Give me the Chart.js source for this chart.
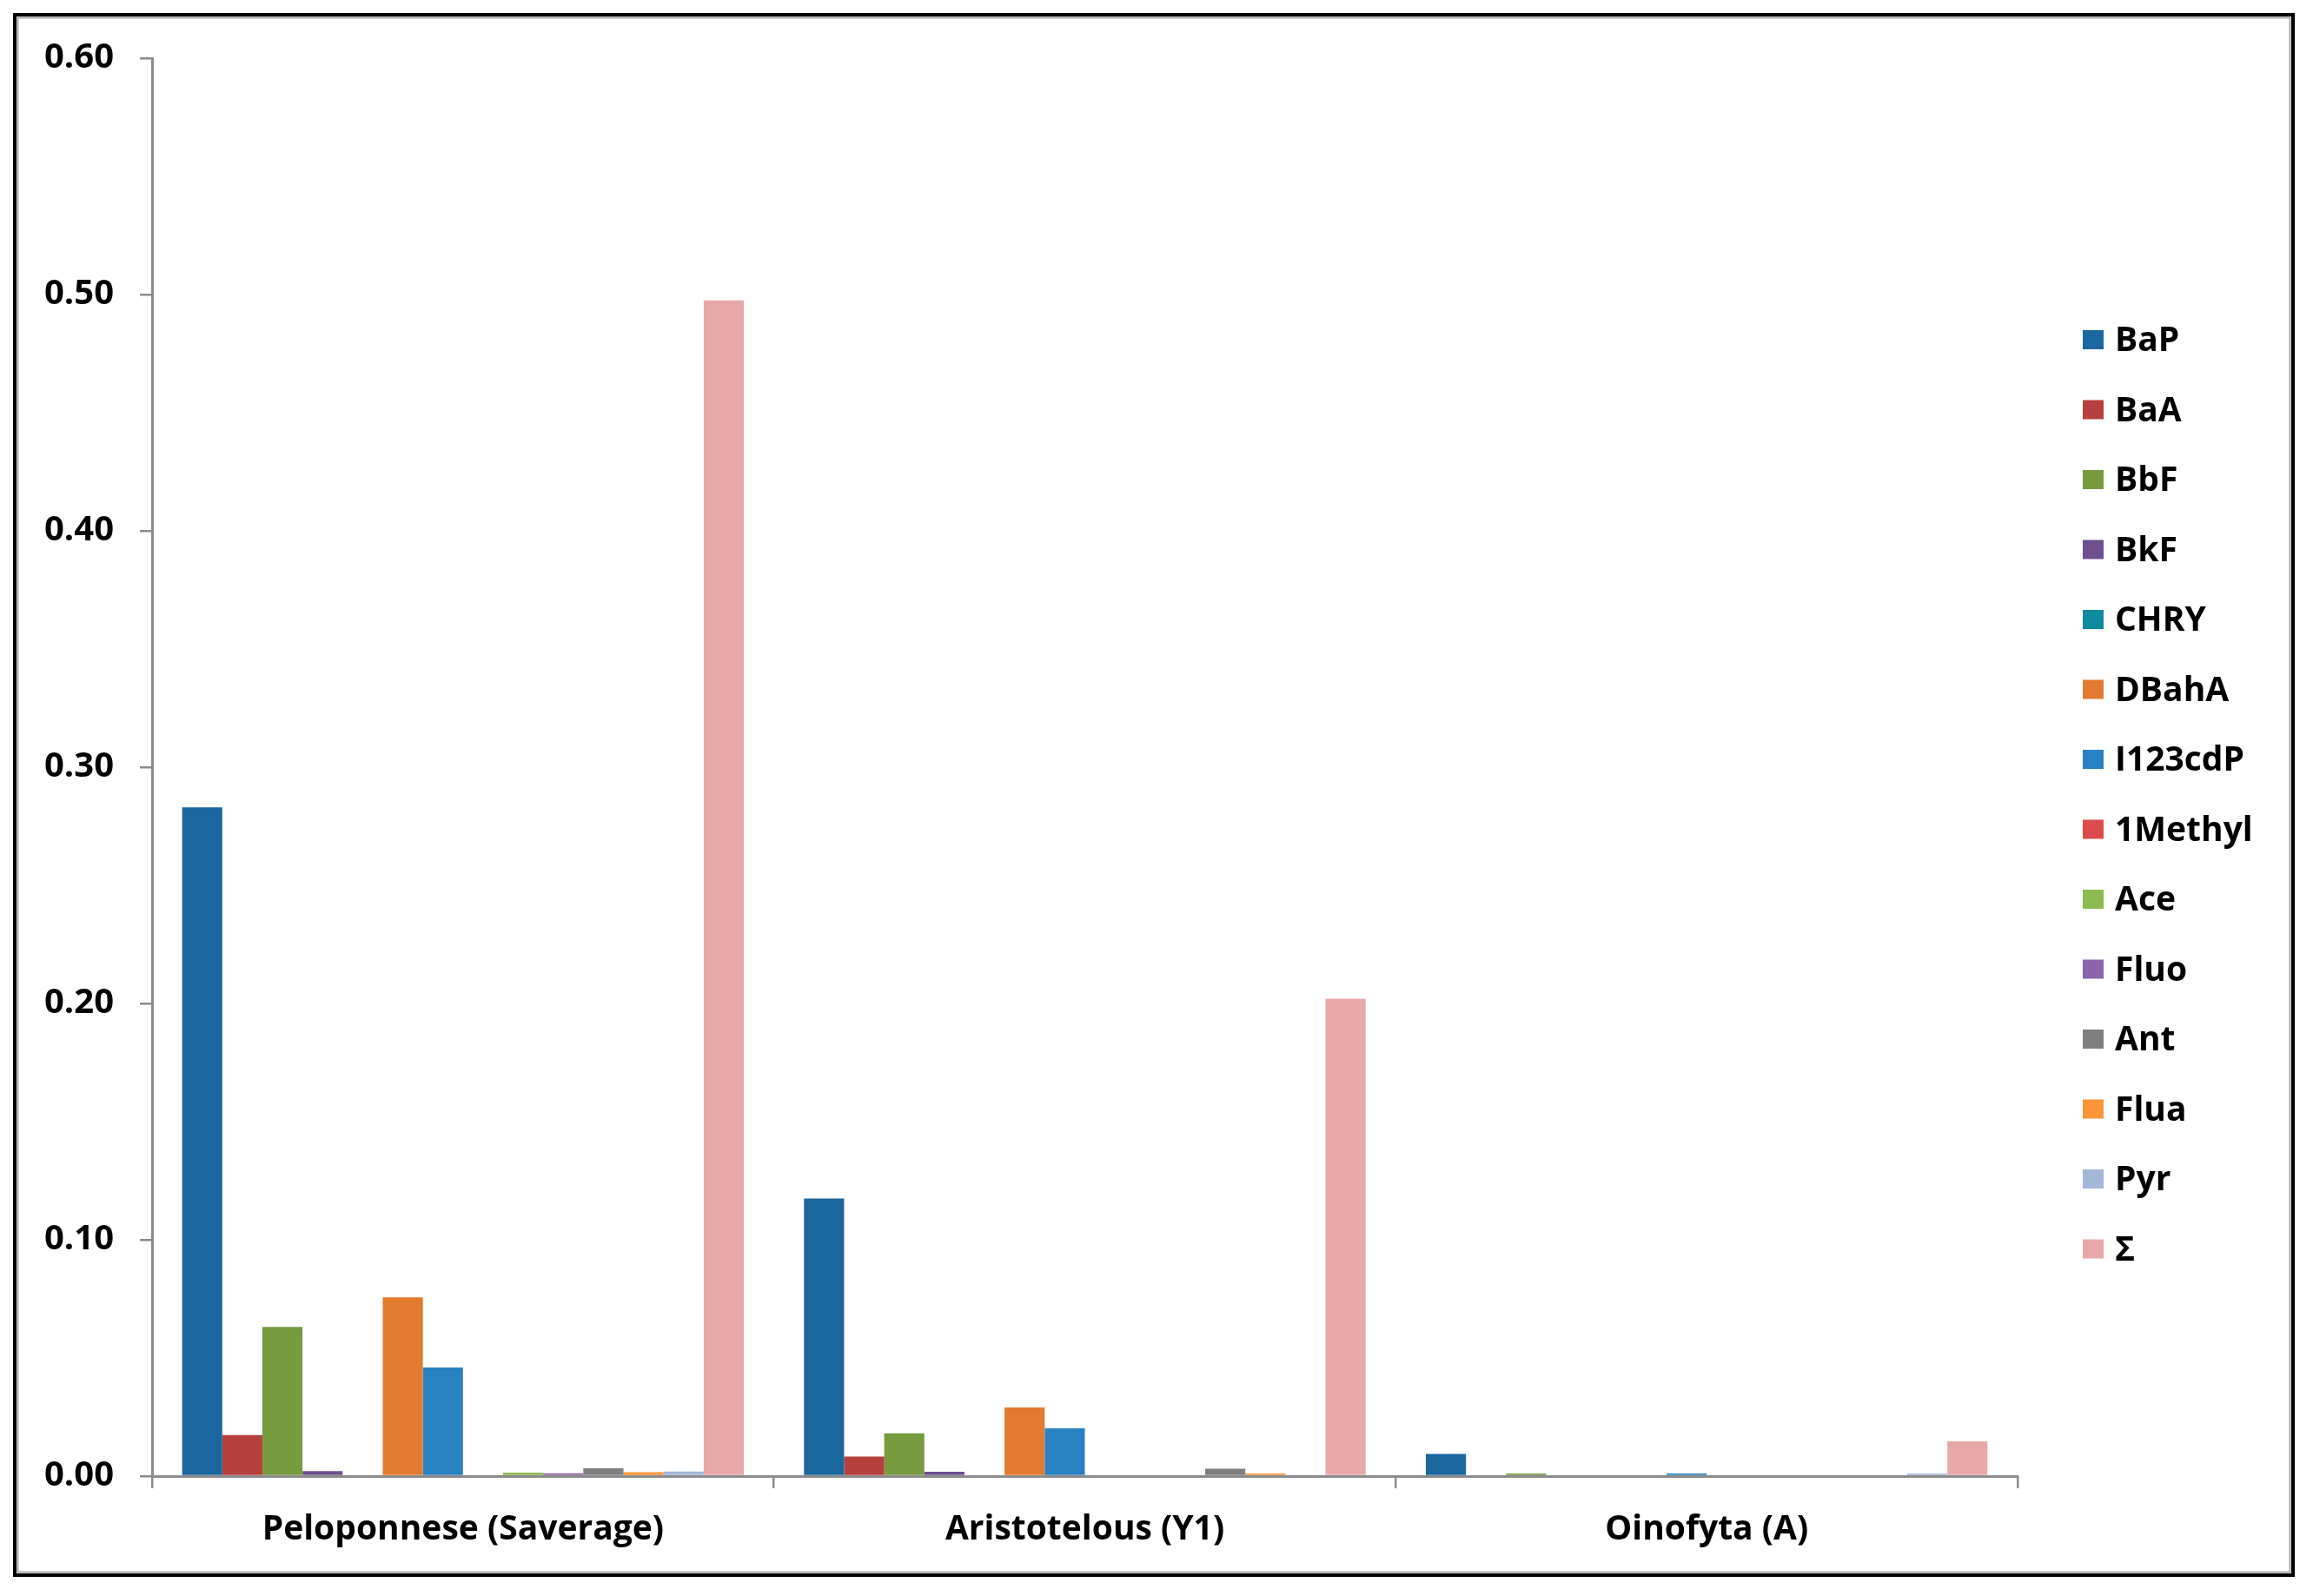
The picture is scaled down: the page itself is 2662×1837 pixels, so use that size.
<!DOCTYPE html>
<html>
<head>
<meta charset="utf-8">
<script src="https://cdn.jsdelivr.net/npm/chart.js@4.4.0/dist/chart.umd.min.js"></script>
<style>
  html, body { margin: 0; padding: 0; background: #fff; }
  canvas { display: block; }
</style>
</head>
<body>
<canvas id="c" width="2662" height="1837"></canvas>
<script>
const categories = ['Peloponnese (Saverage)', 'Aristotelous (Y1)', 'Oinofyta (A)'];
const yTicks = [0, 0.1, 0.2, 0.3, 0.4, 0.5, 0.6];

const seriesNames = ['BaP', 'BaA', 'BbF', 'BkF', 'CHRY', 'DBahA', 'I123cdP', '1Methyl', 'Ace', 'Fluo', 'Ant', 'Flua', 'Pyr', 'Σ'];

const BaP     = [0.2830, 0.1175, 0.0094];
const BaA     = [0.0174, 0.0083, 0];
const BbF     = [0.0631, 0.0181, 0.0011];
const BkF     = [0.0021, 0.0018, 0];
const CHRY    = [0, 0, 0];
const DBahA   = [0.0756, 0.0290, 0];
const I123cdP = [0.0460, 0.0202, 0.0011];
const Methyl1 = [0, 0, 0];
const Ace     = [0.0015, 0, 0];
const Fluo    = [0.0012, 0, 0];
const Ant     = [0.0033, 0.0031, 0];
const Flua    = [0.0017, 0.0011, 0];
const Pyr     = [0.0019, 0.0004, 0.0011];
const Sigma   = [0.4975, 0.2020, 0.0147];

const seriesValues = [BaP, BaA, BbF, BkF, CHRY, DBahA, I123cdP, Methyl1, Ace, Fluo, Ant, Flua, Pyr, Sigma];
const seriesColors = ['#1B67A0', '#B5403D', '#779B3F', '#6F4F8E', '#0F8A9E', '#E27A2F', '#2882C2',
                      '#DD4C4C', '#8CBB50', '#8B64AB', '#7F7F7F', '#FA9538', '#A3B8D9', '#E9A8A8'];

const FONT = '"Open Sans", "DejaVu Sans", sans-serif';
Chart.defaults.font.family = FONT;

const framePlugin = {
  id: 'frame',
  beforeDraw(chart) {
    const ctx = chart.ctx;
    ctx.save();
    ctx.fillStyle = '#ffffff';
    ctx.fillRect(0, 0, chart.width, chart.height);
    ctx.strokeStyle = '#000000';
    ctx.lineWidth = 4;
    ctx.strokeRect(17, 17, 2622, 1796);
    ctx.strokeStyle = '#A6A6A6';
    ctx.lineWidth = 2;
    ctx.strokeRect(20.5, 20.5, 2615, 1789);
    ctx.restore();
  }
};

const legendPlugin = {
  id: 'customLegend',
  afterDraw(chart) {
    const ctx = chart.ctx;
    ctx.save();
    ctx.font = 'bold 39px ' + FONT;
    ctx.textBaseline = 'middle';
    ctx.textAlign = 'left';
    chart.data.datasets.forEach((ds, i) => {
      const cy = 391 + i * 80.5;
      ctx.fillStyle = ds.backgroundColor;
      ctx.fillRect(2397, cy - 11, 24, 22);
      ctx.fillStyle = '#000';
      ctx.fillText(ds.label, 2434, cy + 2);
    });
    ctx.restore();
  }
};

const datasets = seriesNames.map((name, i) => ({
  label: name,
  data: seriesValues[i],
  backgroundColor: seriesColors[i],
  borderWidth: 0,
  categoryPercentage: 14 / 15.5,
  barPercentage: 1.0
}));

new Chart(document.getElementById('c'), {
  type: 'bar',
  data: { labels: categories, datasets },
  plugins: [framePlugin, legendPlugin],
  options: {
    responsive: false,
    animation: false,
    devicePixelRatio: 1,
    layout: { padding: { left: 0, top: 67, right: 340, bottom: 0 } },
    plugins: {
      legend: { display: false },
      tooltip: { enabled: false }
    },
    scales: {
      x: {
        offset: true,
        afterFit(s) { s.height = 138; },
        grid: {
          display: true,
          drawOnChartArea: false,
          offset: true,
          tickLength: 14,
          color: '#8C8C8C',
          lineWidth: 2.5
        },
        border: { display: true, color: '#8C8C8C', width: 3 },
        ticks: {
          color: '#000',
          padding: 24,
          font: { size: 39, weight: 'bold', family: FONT }
        }
      },
      y: {
        min: 0,
        max: 0.6,
        afterFit(s) { s.width = 175; },
        afterBuildTicks(s) { s.ticks = yTicks.map(v => ({ value: v })); },
        grid: {
          display: true,
          drawOnChartArea: false,
          tickLength: 14,
          color: '#8C8C8C',
          lineWidth: 2.5
        },
        border: { display: true, color: '#8C8C8C', width: 3 },
        ticks: {
          color: '#000',
          padding: 30,
          font: { size: 40, weight: 'bold', family: FONT },
          callback: v => Number(v).toFixed(2)
        }
      }
    }
  }
});
</script>
</body>
</html>
